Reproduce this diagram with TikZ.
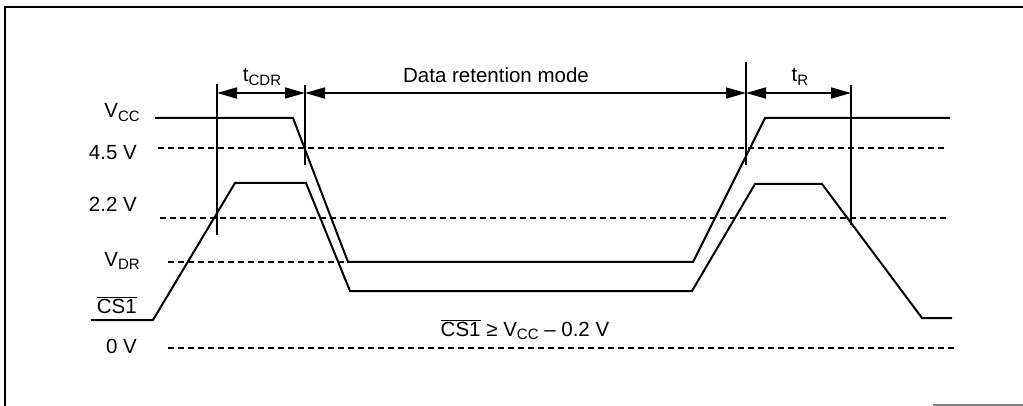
\documentclass[tikz,border=0pt]{standalone}
\usepackage{fontspec}
\setmainfont{Liberation Sans}
\usetikzlibrary{arrows.meta}
\newcommand{\sbs}[1]{\raisebox{-0.3ex}{\fontsize{15}{15}\selectfont #1}}
\newcommand{\ovl}[1]{$\overline{\hbox{#1}}$}
\begin{document}
\begin{tikzpicture}[x=1pt,y=-1pt,
  font=\fontsize{20.5}{24}\selectfont,
  wave/.style={line width=2pt, line join=miter},
  level/.style={line width=1.7pt, dash pattern=on 5.5pt off 4.5pt},
  marker/.style={line width=1.4pt},
  dim/.style={line width=1.7pt, {Triangle[length=20pt,width=11pt]}-{Triangle[length=20pt,width=11pt]}},
  lbl/.style={anchor=base east, inner sep=0pt},
  ttl/.style={inner sep=0pt}]
\useasboundingbox (0,0) rectangle (1023,406);
% frame
\draw[line width=2pt] (1023,7) -- (5,7) -- (5,406);
\draw[line width=1.2pt, gray] (933,405) -- (1023,405);

% level labels
\node[lbl] (lvcc) at (140,118) {V\sbs{CC}};
\node[lbl] (l45) at (137,160) {4.5 V};
\node[lbl] (l22) at (137,212) {2.2 V};
\node[lbl] (lvdr) at (140,266) {V\sbs{DR}};
\node[lbl] (lcs) at (137,313) {\ovl{CS1}};
\node[lbl] (l0) at (137,353) {0 V};

% dashed reference levels
\draw[level] (158,148) -- (948,148);
\draw[level] (160,218) -- (950,218);
\draw[level] (168,262) -- (348,262);
\draw[level] (168,348) -- (958,348);

% Vcc waveform
\coordinate (v0) at (155,118);
\coordinate (v1) at (293,118);
\coordinate (v2) at (348,262);
\coordinate (v3) at (693,262);
\coordinate (v4) at (765,118);
\coordinate (v5) at (950,118);
\draw[wave] (v0) -- (v1) -- (v2) -- (v3) -- (v4) -- (v5);

% CS1 waveform
\coordinate (c0) at (91,320);
\coordinate (c1) at (153,320);
\coordinate (c2) at (235,183);
\coordinate (c3) at (306,183);
\coordinate (c4) at (350,291);
\coordinate (c5) at (692,291);
\coordinate (c6) at (755,184);
\coordinate (c7) at (822,184);
\coordinate (c8) at (922,318);
\coordinate (c9) at (952,318);
\draw[wave] (c0) -- (c1) -- (c2) -- (c3) -- (c4) -- (c5) -- (c6) -- (c7) -- (c8) -- (c9);

% timing markers
\coordinate (m1t) at (217,84);  \coordinate (m1b) at (217,235);
\coordinate (m2t) at (305,85);  \coordinate (m2b) at (305,165);
\coordinate (m3t) at (746,62);  \coordinate (m3b) at (746,165);
\coordinate (m4t) at (851,85);  \coordinate (m4b) at (851,225);
\draw[marker] (m1t) -- (m1b);
\draw[marker] (m2t) -- (m2b);
\draw[marker] (m3t) -- (m3b);
\draw[marker] (m4t) -- (m4b);

\coordinate (a1) at (217,93);
\coordinate (a2) at (305,93);
\coordinate (a3) at (746,93);
\coordinate (a4) at (851,93);
\draw[dim] (a1) -- (a2);
\draw[dim] (a2) -- (a3);
\draw[dim] (a3) -- (a4);

\node[ttl, anchor=base] (tcdr) at (262,82) {t\sbs{CDR}};
\node[ttl, anchor=base] (tdrm) at (496,83) {Data retention mode};
\node[ttl, anchor=base] (tr) at (800,82) {t\sbs{R}};

\node[ttl, anchor=base] (cond) at (525,336) {\ovl{CS1} ≥ V\sbs{CC} – 0.2 V};
\end{tikzpicture}
\end{document}
